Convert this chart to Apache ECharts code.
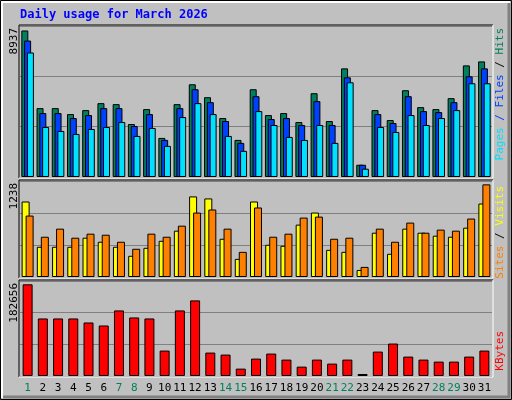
<!DOCTYPE html>
<html><head><meta charset="utf-8">
<script src="https://cdn.jsdelivr.net/npm/echarts@6/dist/echarts.min.js"></script>
<style>html,body{margin:0;padding:0;background:#c0c0c0}#c{width:512px;height:400px}</style>
</head><body><div id="c"></div>
<script>
const days = Array.from({length:31},(_,i)=>String(i+1));
const weekendDays = ['1','7','8','14','15','21','22','28','29'];
const hits  = [8937,4202,4202,3838,4080,4505,4444,3232,4141,2384,4444,5656,4868,3596,2262,5353,3777,3899,3353,5111,3414,6626,747,4080,3474,5292,4262,4141,4808,6807,7050];
const files = [8322,3899,3899,3596,3777,4202,4202,3111,3838,2262,4202,5353,4565,3414,2081,4929,3535,3596,3171,4626,3171,6080,747,3838,3293,4929,4020,3959,4565,6141,6626];
const pages = [7595,3050,2808,2626,2929,3050,3353,2505,2990,1899,3656,4505,3838,2505,1596,4020,3171,2444,2262,3171,2081,5777,505,3050,2747,3777,3171,3596,4080,5717,5717];
const sites = [1009,404,404,404,525,471,404,283,390,484,619,1077,1050,511,242,1009,431,417,700,861,363,336,94,592,310,646,592,552,538,659,982];
const visits= [821,538,646,525,579,565,471,377,579,538,686,861,902,646,336,929,538,579,794,807,511,525,135,646,471,727,592,633,619,781,1238];
const kbytes= [182656,114655,114655,114655,106656,100657,130654,116655,114655,50662,130654,150652,46662,42662,14665,34663,44662,32663,18665,32663,24664,32663,4000,48662,64661,38663,32663,28664,28664,38663,50662];
const maxLabels = ['8937','1238','182656'];
const axisMax = [9210,1283,189300];

const F = 'DejaVu Sans Mono';
const grids = [
  {left:20,width:472,top:26,height:151},
  {left:20,width:472,top:181,height:96},
  {left:20,width:472,top:281,height:95}
];
const xAxes = grids.map((g,i)=>({gridIndex:i,type:'category',data:days,boundaryGap:true,
  axisLine:{show:false},axisTick:{show:false},
  axisLabel:{show:i===2,interval:0,margin:7,fontFamily:F,fontSize:11,
    color:(v)=>weekendDays.includes(v)?'#00805c':'#000000'}}));
const yAxes = grids.map((g,i)=>({gridIndex:i,type:'value',min:0,max:axisMax[i],interval:axisMax[i]/3,
  axisLine:{show:false},axisTick:{show:false},axisLabel:{show:false},
  splitLine:{show:true,lineStyle:{color:'#808080',width:1}}}));
const bs = {borderColor:'#000',borderWidth:1};
const series = [
  {type:'bar',xAxisIndex:0,yAxisIndex:0,data:hits,barWidth:7,barGap:'-60%',itemStyle:{color:'#00805c',...bs}},
  {type:'bar',xAxisIndex:0,yAxisIndex:0,data:files,barWidth:7,barGap:'-60%',itemStyle:{color:'#0040ff',...bs}},
  {type:'bar',xAxisIndex:0,yAxisIndex:0,data:pages,barWidth:7,barGap:'-60%',itemStyle:{color:'#00e0ff',...bs}},
  {type:'bar',xAxisIndex:1,yAxisIndex:1,data:sites,barWidth:8,barGap:'-50%',itemStyle:{color:'#ffff00',...bs}},
  {type:'bar',xAxisIndex:1,yAxisIndex:1,data:visits,barWidth:8,barGap:'-50%',itemStyle:{color:'#ff8000',...bs}},
  {type:'bar',xAxisIndex:2,yAxisIndex:2,data:kbytes,barWidth:10,itemStyle:{color:'#ff0000',...bs}}
];
const frame = (g)=>[
  {type:'polyline',shape:{points:[[g.left-1,g.top+g.height+1],[g.left-1,g.top-1],[g.left+g.width+1,g.top-1]]},style:{stroke:'#000',lineWidth:1,fill:null},z:10},
  {type:'polyline',shape:{points:[[g.left+g.width+1,g.top-1],[g.left+g.width+1,g.top+g.height+1],[g.left-1,g.top+g.height+1]]},style:{stroke:'#fff',lineWidth:1,fill:null},z:10}
];
const vtext = (x,y,rich,txt)=>({type:'text',x:x,y:y,rotation:Math.PI/2,style:{text:txt,rich:rich,font:'11px '+F,align:'right',verticalAlign:'middle'},z:11});
const graphic = [
  {type:'rect',shape:{x:0.5,y:0.5,width:511,height:399},style:{fill:null,stroke:'#000',lineWidth:1}},
  {type:'polyline',shape:{points:[[2,398],[2,2],[510,2]]},style:{stroke:'#fff',lineWidth:2,fill:null}},
  {type:'polyline',shape:{points:[[509,3],[509,397],[3,397]]},style:{stroke:'#808080',lineWidth:3,fill:null}},
  ...grids.flatMap(frame),
  {type:'text',left:20,top:9,style:{text:'Daily usage for March 2026',font:'bold 12px '+F,fill:'#0000ff'}},
  vtext(14,grids[0].top+2,{},maxLabels[0]),
  vtext(14,grids[1].top+2,{},maxLabels[1]),
  vtext(14,grids[2].top+2,{},maxLabels[2]),
  vtext(500,28,{p:{fill:'#00e0ff'},f:{fill:'#0040ff'},h:{fill:'#00805c'}},'{p|Pages}{f| / Files} / {h|Hits}'),
  vtext(500,186,{s:{fill:'#ff8000'},v:{fill:'#ffff00'}},'{s|Sites} / {v|Visits}'),
  vtext(500,331,{k:{fill:'#ff0000'}},'{k|KBytes}')
];
const chart = echarts.init(document.getElementById('c'),null,{renderer:'canvas'});
chart.setOption({backgroundColor:'#c0c0c0',animation:false,grid:grids,xAxis:xAxes,yAxis:yAxes,series:series,graphic:graphic});
</script></body></html>
